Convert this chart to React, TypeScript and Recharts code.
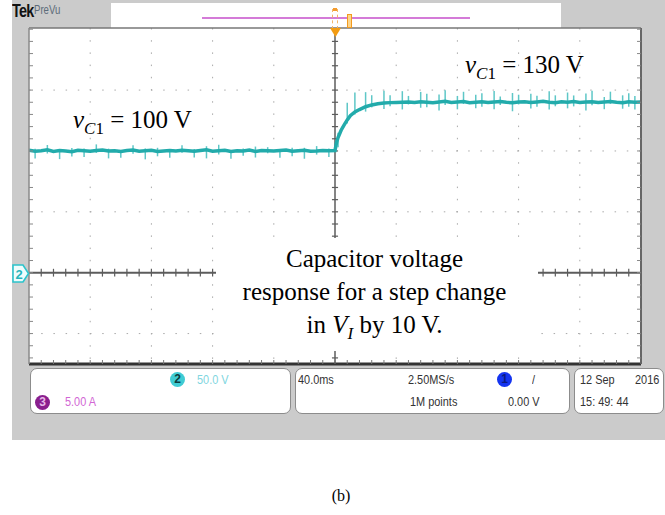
import React from "react";
import {
  ComposedChart,
  Line,
  Scatter,
  XAxis,
  YAxis,
  CartesianGrid,
  ReferenceLine,
  ErrorBar,
} from "recharts";

// time in ms (trigger at 0), channel 2 voltage in V
const timeMs = [
  -200, -196, -192, -188, -184, -180, -176, -172, -168, -164,
  -160, -156, -152, -148, -144, -140, -136, -132, -128, -124,
  -120, -116, -112, -108, -104, -100, -96, -92, -88, -84,
  -80, -76, -72, -68, -64, -60, -56, -52, -48, -44,
  -40, -36, -32, -28, -24, -20, -16, -12, -8, -4, 0,
  1, 2, 4, 6, 8, 10, 13, 16, 20, 24, 28, 32, 36, 40, 44,
  48, 52, 56, 60, 64, 68, 72, 76, 80, 84,
  88, 92, 96, 100, 104, 108, 112, 116, 120, 124,
  128, 132, 136, 140, 144, 148, 152, 156, 160, 164,
  168, 172, 176, 180, 184, 188, 192, 196, 200,
];
const vC1 = [
  100.5, 99.8, 100.2, 100.9, 99.6, 100.3, 100.0, 99.4, 100.6, 100.1,
  99.7, 100.4, 100.8, 99.9, 100.2, 99.5, 100.3, 100.7, 99.8, 100.1,
  100.5, 99.6, 100.0, 100.4, 99.9, 100.6, 100.2, 99.7, 100.3, 100.9,
  99.8, 100.1, 100.5, 99.5, 100.2, 100.0, 100.7, 99.6, 100.3, 100.1,
  99.9, 100.4, 100.8, 99.7, 100.2, 100.6, 99.8, 100.0, 100.4, 100.1, 100.3,
  107, 111, 117, 121.5, 125.5, 129, 132, 134, 136.3, 137.8, 138.8, 139.4, 139.7, 139.9, 140.1,
  140.2, 139.8, 140.5, 140.0, 139.6, 140.3, 140.8, 139.9, 140.2, 140.6,
  139.7, 140.1, 140.4, 139.8, 140.3, 140.7, 140.0, 139.6, 140.2, 140.5,
  139.9, 140.3, 140.8, 140.1, 139.7, 140.4, 140.0, 140.6, 139.8, 140.2,
  140.5, 139.9, 140.3, 140.7, 140.0, 139.7, 140.4, 140.1, 140.3,
];

// switching spikes on the trace (V below / above the trace)
const spikeT = [
  -196, -188, -180, -172, -164, -156, -148, -140, -132, -124, -116, -108, -100,
  -92, -84, -76, -68, -60, -52, -44, -36, -28, -20, -12, -4,
  2, 8, 13, 20, 24, 32, 36, 44, 48, 56, 60, 68, 72, 80, 84, 92, 96,
  104, 108, 116, 120, 128, 132, 140, 144, 152, 156, 164, 168, 176, 180, 188, 192, 196,
];
const spikeDown = [
  6, 3, 7, 4, 5, 2, 6, 5, 3, 7, 4, 6, 2, 5, 7, 3, 6, 4, 5, 2, 6, 4, 7, 3, 5,
  8, 3, 2, 4, 2, 5, 3, 6, 2, 5, 4, 7, 3, 6, 2, 5, 4,
  6, 3, 7, 2, 5, 4, 6, 3, 5, 4, 7, 3, 6, 2, 5, 4, 6,
];
const spikeUp = [
  2, 4, 1, 3, 2, 5, 2, 1, 4, 2, 3, 1, 4, 2, 3, 5, 1, 2, 4, 3, 1, 3, 2, 4, 2,
  4, 14, 16, 12, 8, 10, 6, 9, 5, 8, 7, 6, 9, 5, 8, 6, 7,
  9, 4, 8, 6, 7, 5, 9, 6, 8, 5, 7, 9, 4, 8, 6, 7, 5,
];

// graticule: 40 ms/div, 50 V/div, 5 minor ticks per division
const minorT = [
  -192, -184, -176, -168, -160, -152, -144, -136, -128, -120, -112, -104, -96, -88,
  -80, -72, -64, -56, -48, -40, -32, -24, -16, -8, 0, 8, 16, 24, 32, 40, 48, 56,
  64, 72, 80, 88, 96, 104, 112, 120, 128, 136, 144, 152, 160, 168, 176, 184, 192,
];
const minorV = [
  -70, -60, -50, -40, -30, -20, -10, 0, 10, 20, 30, 40, 50, 60, 70, 80, 90, 100,
  110, 120, 130, 140, 150, 160, 170, 180, 190, 200,
];
const gridT = [-160, -120, -80, -40, 40, 80, 120, 160];
const gridV = [-50, 50, 100, 150];

const traceRows = timeMs.map((t, i) => {
  const k = spikeT.indexOf(t);
  return { t, v: vC1[i], err: k >= 0 ? [spikeDown[k], spikeUp[k]] : null };
});
const hTickRows = minorT.map((t) => ({ t, v: 0, e: 3.2 }));
const vTickRows = minorV.map((v) => ({ t: 0, v, e: 2 }));

const scopeFont = '"Liberation Sans", Arial, sans-serif';
const serif = '"Liberation Serif", "Times New Roman", serif';

const abs = (left: number, top: number, extra: React.CSSProperties = {}): React.CSSProperties => ({
  position: "absolute",
  left,
  top,
  ...extra,
});

function Badge({ x, y, n, bg, color }: { x: number; y: number; n: string; bg: string; color: string }) {
  return (
    <div
      style={abs(x, y, {
        width: 15,
        height: 15,
        borderRadius: 8,
        background: bg,
        color,
        fontFamily: scopeFont,
        fontWeight: "bold",
        fontSize: 12,
        lineHeight: "15px",
        textAlign: "center",
      })}
    >
      {n}
    </div>
  );
}

function VLabel({ x, top, value }: { x: number; top: number; value: string }) {
  return (
    <div style={abs(x, top, { fontFamily: serif, fontSize: 25, lineHeight: "33px", whiteSpace: "nowrap", color: "#000" })}>
      <i>v</i>
      <span style={{ fontSize: 17, position: "relative", top: 6, lineHeight: 0 }}>
        <i>C</i>1
      </span>{" "}
      = {value}
    </div>
  );
}

export default function App() {
  const readout: React.CSSProperties = {
    fontFamily: scopeFont,
    fontSize: 13,
    lineHeight: "16px",
    whiteSpace: "nowrap",
    transform: "scaleX(0.84)",
    transformOrigin: "left center",
  };
  const box = (left: number, width: number) =>
    abs(left, 368, { width, height: 46, background: "#fff", border: "1px solid #8c8c8c", borderRadius: 7, boxSizing: "border-box" });

  return (
    <div style={{ position: "absolute", left: 0, top: 0, width: 665, height: 515, background: "#fff", overflow: "hidden" }}>
      <div style={abs(12, 0, { width: 653, height: 440, background: "#cbcbcb" })} />
      <div style={abs(111, 3, { width: 450, height: 25, background: "#fff" })} />

      <div style={abs(0, 0)}>
        <ComposedChart width={665} height={515} margin={{ top: 28, right: 24, bottom: 151, left: 29 }}>
          <CartesianGrid
            fill="#fff"
            fillOpacity={1}
            stroke="#a9a9a9"
            strokeDasharray="1.5 10.7"
            horizontalValues={gridV}
            verticalValues={gridT}
          />
          <XAxis
            dataKey="t"
            type="number"
            domain={[-200, 200]}
            allowDataOverflow
            ticks={minorT}
            orientation="bottom"
            mirror
            tickSize={4}
            tickFormatter={() => ""}
            axisLine={{ stroke: "#333", strokeWidth: 3 }}
            tickLine={{ stroke: "#777" }}
          />
          <XAxis
            xAxisId="top"
            type="number"
            domain={[-200, 200]}
            allowDataOverflow
            ticks={minorT}
            orientation="top"
            mirror
            tickSize={4}
            tickFormatter={() => ""}
            axisLine={{ stroke: "#777", strokeWidth: 1.5 }}
            tickLine={{ stroke: "#888" }}
          />
          <YAxis
            dataKey="v"
            type="number"
            domain={[-75, 201]}
            allowDataOverflow
            ticks={minorV}
            mirror
            tickSize={4}
            tickFormatter={() => ""}
            axisLine={{ stroke: "#8a8a8a", strokeWidth: 1.5 }}
            tickLine={{ stroke: "#888" }}
          />
          <YAxis
            yAxisId="right"
            orientation="right"
            type="number"
            domain={[-75, 201]}
            allowDataOverflow
            ticks={minorV}
            mirror
            tickSize={4}
            tickFormatter={() => ""}
            axisLine={{ stroke: "#666", strokeWidth: 2 }}
            tickLine={{ stroke: "#888" }}
          />
          <ReferenceLine y={0} stroke="#5c5c5c" strokeWidth={2} />
          <ReferenceLine x={0} stroke="#5c5c5c" strokeWidth={1.5} />
          <Scatter data={hTickRows} shape={() => <g />} isAnimationActive={false}>
            <ErrorBar dataKey="e" direction="y" width={0} stroke="#5c5c5c" strokeWidth={1.2} isAnimationActive={false} />
          </Scatter>
          <Scatter data={vTickRows} shape={() => <g />} isAnimationActive={false}>
            <ErrorBar dataKey="e" direction="x" width={0} stroke="#5c5c5c" strokeWidth={1.2} isAnimationActive={false} />
          </Scatter>
          <Line data={traceRows} dataKey="v" type="linear" stroke="#22abab" strokeWidth={3.5} dot={false} isAnimationActive={false}>
            <ErrorBar dataKey="err" direction="y" width={0} stroke="#5ec7c7" strokeWidth={1.5} isAnimationActive={false} />
          </Line>
        </ComposedChart>
      </div>

      {/* top status bar */}
      <div
        style={abs(12, 1, {
          fontFamily: scopeFont,
          fontWeight: "bold",
          fontSize: 18,
          lineHeight: "20px",
          color: "#111",
          letterSpacing: -1,
          transform: "scaleX(0.8)",
          transformOrigin: "left center",
        })}
      >
        Tek
      </div>
      <div
        style={abs(34, 3, {
          fontFamily: scopeFont,
          fontSize: 12,
          lineHeight: "14px",
          color: "#5d6b7a",
          transform: "scaleX(0.8)",
          transformOrigin: "left center",
        })}
      >
        PreVu
      </div>
      <div style={abs(202, 17, { width: 268, height: 2, background: "#d47bd8" })} />
      <div style={abs(332, 9, { width: 4, height: 18, border: "1px dashed #f3b56a" })} />
      <div style={abs(333, 8, { width: 4, height: 3, background: "#f39c2e" })} />
      <div style={abs(347, 14, { width: 3, height: 12, border: "1.5px solid #f39a1e", background: "#fcd58c" })} />
      <svg style={abs(330, 28)} width={11} height={9}>
        <polygon points="0,0 11,0 5.5,9" fill="#f39c12" />
      </svg>

      {/* channel 2 ground marker */}
      <svg style={abs(12, 264)} width={18} height={19}>
        <polygon points="1,1 11,1 16.5,9.5 11,18 1,18" fill="#effcfc" stroke="#2cc4cc" strokeWidth={1.6} />
        <text x={3.5} y={14.5} fill="#27b5bd" fontSize={13} fontWeight="bold" fontFamily={scopeFont}>
          2
        </text>
      </svg>

      {/* annotations */}
      <VLabel x={73} top={103} value="100 V" />
      <VLabel x={465} top={48} value="130 V" />
      <div style={abs(216, 238, { width: 322, height: 113, background: "#fff" })} />
      <div
        style={abs(224, 242, {
          width: 301,
          fontFamily: serif,
          fontSize: 25,
          lineHeight: "33px",
          textAlign: "center",
          color: "#000",
          whiteSpace: "nowrap",
        })}
      >
        <div>Capacitor voltage</div>
        <div>response for a step change</div>
        <div>
          in <i>V</i>
          <span style={{ fontSize: 17, position: "relative", top: 6, lineHeight: 0 }}>
            <i>I</i>
          </span>{" "}
          by 10 V.
        </div>
      </div>

      {/* readouts */}
      <div style={box(30, 261)} />
      <div style={box(295, 275)} />
      <div style={box(574, 90)} />
      <Badge x={170} y={372} n="2" bg="#3fcbd3" color="#0b3b3e" />
      <div style={abs(197, 372, { ...readout, color: "#7fd6e0" })}>50.0 V</div>
      <Badge x={35} y={395} n="3" bg="#8a1f8e" color="#e6b8e8" />
      <div style={abs(65, 394, { ...readout, color: "#d266d4" })}>5.00 A</div>
      <div style={abs(298, 372, { ...readout, color: "#333" })}>40.0ms</div>
      <div style={abs(408, 372, { ...readout, color: "#333" })}>2.50MS/s</div>
      <div style={abs(410, 394, { ...readout, color: "#333" })}>1M points</div>
      <Badge x={497} y={372} n="1" bg="#1434f0" color="#0a1a80" />
      <div style={abs(532, 372, { ...readout, color: "#333" })}>/</div>
      <div style={abs(508, 394, { ...readout, color: "#333" })}>0.00 V</div>
      <div style={abs(580, 372, { ...readout, color: "#333" })}>12 Sep</div>
      <div style={abs(635, 372, { ...readout, color: "#333" })}>2016</div>
      <div style={abs(580, 394, { ...readout, color: "#333" })}>15: 49: 44</div>

      <div style={abs(300, 487, { width: 82, textAlign: "center", fontFamily: serif, fontSize: 16, lineHeight: "18px", color: "#000" })}>
        (b)
      </div>
    </div>
  );
}
